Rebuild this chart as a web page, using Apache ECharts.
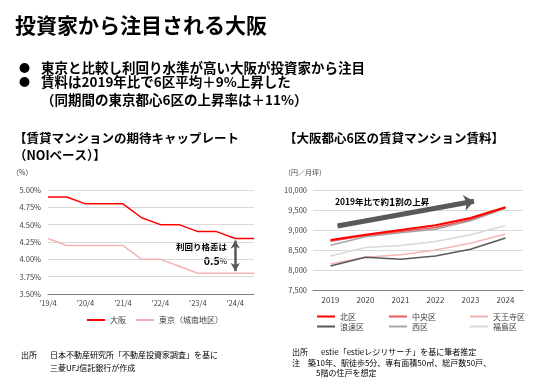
<!DOCTYPE html>
<html><head><meta charset="utf-8">
<script src="https://cdn.jsdelivr.net/npm/echarts@6/dist/echarts.min.js"></script>
<style>html,body{margin:0;padding:0;background:#fff}#c{width:536px;height:384px}</style>
</head><body><div id="c"></div>
<script>
// Left chart: expected cap rate (semiannual)
const capCategories = ['19/4','19/10','20/4','20/10','21/4','21/10','22/4','22/10','23/4','23/10','24/4','24/10'];
const osakaCap = [4.90,4.90,4.80,4.80,4.80,4.60,4.50,4.50,4.40,4.40,4.30,4.30];
const tokyoCap = [4.30,4.20,4.20,4.20,4.20,4.00,4.00,3.90,3.80,3.80,3.80,3.80];
const capTicks = {min:3.5, max:5.0, interval:0.25};

// Right chart: rent (yen / tsubo per month)
const rentYears = ['2019','2020','2021','2022','2023','2024'];
const kita     = [8750,8880,9000,9120,9300,9570];
const chuo     = [8720,8860,8960,9060,9260,9560];
const tennoji  = [8150,8320,8380,8500,8670,8900];
const naniwa   = [8100,8320,8270,8350,8520,8800];
const nishi    = [8620,8830,8930,9020,9230,9540];
const fukushima= [8350,8560,8610,8710,8880,9110];
const rentTicks = {min:7500, max:10000, interval:500};

const FONT = '"Noto Sans CJK JP","Noto Sans",sans-serif';
const chart = echarts.init(document.getElementById('c'), null, {renderer:'canvas'});

function txt(x, y, text, size, opts) {
  return Object.assign({type:'text', x:x, y:y, style:Object.assign({text:text, fontSize:size, fontFamily:FONT, fill:'#000', verticalAlign:'middle'}, opts||{})});
}

const option = {
  animation:false,
  textStyle:{fontFamily:FONT},
  grid:[
    {left:48, top:190, width:206, height:104},
    {left:313, top:190, width:210, height:100}
  ],
  xAxis:[
    {type:'category', gridIndex:0, data:capCategories, boundaryGap:false,
     axisTick:{show:false}, axisLine:{lineStyle:{color:'#7f7f7f', width:1.2}},
     axisLabel:{interval:1, color:'#404040', fontSize:7.5, margin:5, formatter:v=>"'"+v}},
    {type:'category', gridIndex:1, data:rentYears, boundaryGap:true,
     axisTick:{show:false}, axisLine:{lineStyle:{color:'#7f7f7f', width:1.2}},
     axisLabel:{color:'#404040', fontSize:8, margin:6}},
    {type:'value', gridIndex:1, min:-0.5, max:5.5, show:false}
  ],
  yAxis:[
    {type:'value', gridIndex:0, min:capTicks.min, max:capTicks.max, interval:capTicks.interval,
     axisLine:{show:false}, axisTick:{show:false},
     splitLine:{lineStyle:{color:'#d9d9d9'}},
     axisLabel:{color:'#404040', fontSize:7.5, margin:7, formatter:v=>v.toFixed(2)+'%'}},
    {type:'value', gridIndex:1, min:rentTicks.min, max:rentTicks.max, interval:rentTicks.interval,
     axisLine:{show:false}, axisTick:{show:false},
     splitLine:{lineStyle:{color:'#d9d9d9'}},
     axisLabel:{color:'#404040', fontSize:7.5, margin:6, formatter:v=>v.toLocaleString('en-US')}}
  ],
  legend:[
    {data:['大阪','東京（城南地区）'], left:82, top:311, itemWidth:18, itemHeight:2, itemGap:10, icon:'rect',
     textStyle:{fontSize:8, color:'#404040'}},
    {data:['北区','浪速区'], orient:'vertical', left:312, top:307, itemWidth:18, itemHeight:2, itemGap:1, icon:'rect',
     textStyle:{fontSize:8, color:'#404040', lineHeight:9}},
    {data:['中央区','西区'], orient:'vertical', left:384, top:307, itemWidth:18, itemHeight:2, itemGap:1, icon:'rect',
     textStyle:{fontSize:8, color:'#404040', lineHeight:9}},
    {data:['天王寺区','福島区'], orient:'vertical', left:465, top:307, itemWidth:18, itemHeight:2, itemGap:1, icon:'rect',
     textStyle:{fontSize:8, color:'#404040', lineHeight:9}}
  ],
  series:[
    {name:'東京（城南地区）', type:'line', xAxisIndex:0, yAxisIndex:0, data:tokyoCap, symbol:'none',
     lineStyle:{color:'#f4b4b4', width:1.5}, itemStyle:{color:'#f4b4b4'}},
    {name:'大阪', type:'line', xAxisIndex:0, yAxisIndex:0, data:osakaCap, symbol:'none',
     lineStyle:{color:'#ff0000', width:1.5}, itemStyle:{color:'#ff0000'},
     markLine:{silent:true, symbol:['arrow','arrow'], symbolSize:[7,8], label:{show:false},
       lineStyle:{color:'#595959', width:2.5, type:'solid'},
       data:[[{coord:['24/4',4.27]},{coord:['24/4',3.83]}]]}},
    {name:'福島区', type:'line', xAxisIndex:1, yAxisIndex:1, data:fukushima, symbol:'none',
     lineStyle:{color:'#d9d9d9', width:1.5}, itemStyle:{color:'#d9d9d9'}},
    {name:'天王寺区', type:'line', xAxisIndex:1, yAxisIndex:1, data:tennoji, symbol:'none',
     lineStyle:{color:'#f4b4b4', width:1.5}, itemStyle:{color:'#f4b4b4'}},
    {name:'浪速区', type:'line', xAxisIndex:1, yAxisIndex:1, data:naniwa, symbol:'none',
     lineStyle:{color:'#595959', width:1.5}, itemStyle:{color:'#595959'}},
    {name:'西区', type:'line', xAxisIndex:1, yAxisIndex:1, data:nishi, symbol:'none',
     lineStyle:{color:'#a6a6a6', width:1.5}, itemStyle:{color:'#a6a6a6'}},
    {name:'中央区', type:'line', xAxisIndex:1, yAxisIndex:1, data:chuo, symbol:'none',
     lineStyle:{color:'#e85a5a', width:1.5}, itemStyle:{color:'#e85a5a'}},
    {name:'北区', type:'line', xAxisIndex:1, yAxisIndex:1, data:kita, symbol:'none',
     lineStyle:{color:'#ff0000', width:2}, itemStyle:{color:'#ff0000'}},
    {name:'arrow', type:'line', xAxisIndex:2, yAxisIndex:1, data:[], symbol:'none',
     markLine:{silent:true, symbol:['none','arrow'], symbolSize:[12,10], label:{show:false},
       lineStyle:{color:'#595959', width:5, type:'solid'},
       data:[[{coord:[0.2,9100]},{coord:[4.1,9720]}]]}}
  ],
  graphic:[
    txt(15, 25, '投資家から注目される大阪', 21, {fontWeight:'bold'}),
    txt(19, 68, '●', 11),
    txt(41, 68, '東京と比較し利回り水準が高い大阪が投資家から注目', 13.5, {fontWeight:'bold'}),
    txt(19, 82, '●', 11),
    txt(41, 82, '賃料は2019年比で6区平均＋9%上昇した', 13.5, {fontWeight:'bold'}),
    txt(41, 100, '（同期間の東京都心6区の上昇率は＋11%）', 13.5, {fontWeight:'bold'}),
    txt(14, 138, '【賃貸マンションの期待キャップレート', 12.5, {fontWeight:'bold'}),
    txt(14, 155, '（NOIベース）】', 12.5, {fontWeight:'bold'}),
    txt(12, 172, '（%）', 7, {fill:'#404040'}),
    txt(284, 138, '【大阪都心6区の賃貸マンション賃料】', 12.5, {fontWeight:'bold'}),
    txt(284, 172, '（円／月坪）', 7, {fill:'#404040'}),
    txt(227, 247, '利回り格差は', 8.5, {fontWeight:'bold', align:'right'}),
    {type:'text', x:227, y:261, style:{text:'{a|0.5}{b|%}', align:'right', verticalAlign:'middle', fontFamily:FONT,
      rich:{a:{fontSize:10.5, fontWeight:'bold', fill:'#000', fontFamily:FONT}, b:{fontSize:8, fill:'#000', fontFamily:FONT}}}},
    {type:'text', x:335, y:202, style:{text:'2019年比で約{b|1}割の上昇', fontSize:8.5, fontWeight:'bold', fontFamily:FONT, fill:'#000', verticalAlign:'middle',
      rich:{b:{fontSize:10.5, fontWeight:'bold', fill:'#000', fontFamily:FONT}}}},
    txt(21, 355, '出所', 8, {fill:'#000'}),
    txt(50, 355, '日本不動産研究所「不動産投資家調査」を基に', 8, {fill:'#000'}),
    txt(50, 368, '三菱UFJ信託銀行が作成', 8, {fill:'#000'}),
    txt(292, 352, '出所', 8, {fill:'#000'}),
    txt(321, 352, 'estie「estieレジリサーチ」を基に筆者推定', 8, {fill:'#000'}),
    txt(292, 363, '注', 8, {fill:'#000'}),
    txt(308, 363, '築10年、駅徒歩5分、専有面積50㎡、総戸数50戸、', 8, {fill:'#000'}),
    txt(316, 373, '5階の住戸を想定', 8, {fill:'#000'})
  ]
};
chart.setOption(option);
</script></body></html>
